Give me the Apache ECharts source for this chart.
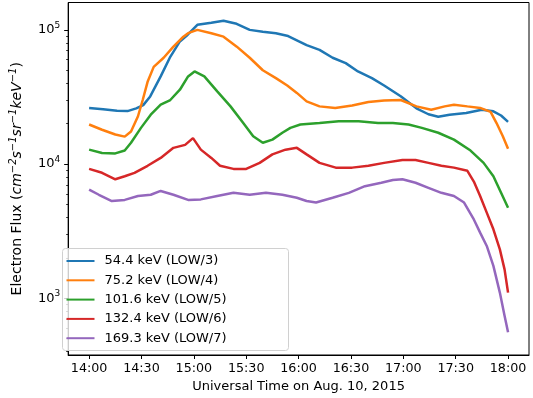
<!DOCTYPE html>
<html>
<head>
<meta charset="utf-8">
<script src="https://cdn.jsdelivr.net/npm/echarts@6/dist/echarts.min.js"></script>
<style>
  html, body { margin: 0; padding: 0; background: #fff; }
  #chart { width: 533px; height: 398px; }
</style>
</head>
<body>
<div id="chart"></div>
<script>
// x values are minutes after 14:00 UT, y values are flux
const seriesNames = [
  '54.4 keV (LOW/3)',
  '75.2 keV (LOW/4)',
  '101.6 keV (LOW/5)',
  '132.4 keV (LOW/6)',
  '169.3 keV (LOW/7)'
]
const colors = ['#1f77b4', '#ff7f0e', '#2ca02c', '#d62728', '#9467bd']

const flux54 = [
  [0, 26200], [8, 25600], [16, 25000], [22, 24800], [27, 26000], [31, 27500], [35, 31900],
  [41, 45000], [46.5, 63000], [52, 82000], [56.5, 92000], [62, 109000], [70, 113000],
  [77, 117000], [84.5, 111000], [92, 100000], [99.5, 97000], [107, 94500], [114, 90000],
  [124.6, 77000], [132, 71000], [139.5, 62000], [147, 56500], [154, 49000], [162, 43700],
  [169, 38500], [178.5, 32000], [187.5, 26000], [194.4, 23500], [200, 22500], [206.5, 23300],
  [216, 24000], [225, 25400], [231.6, 24700], [236, 23000], [240, 20600]
]
const flux75 = [
  [0, 19700], [7.4, 18000], [15, 16600], [20.4, 16000], [24, 17500], [28, 22700], [30.7, 30000],
  [33.5, 41000], [37, 53000], [42.7, 62000], [48.3, 75000], [54, 89000], [56.7, 94500],
  [62, 100000], [70, 94500], [77, 89000], [84.6, 75000], [92, 62000], [99.5, 50000],
  [107, 43700], [113.5, 38500], [119, 33900], [124.6, 29300], [132, 26900], [141, 26200],
  [150.7, 27300], [160, 29000], [169, 29800], [178.5, 30000], [187.5, 26900], [196, 25400],
  [203.7, 26900], [209, 27700], [216.7, 26900], [224, 26200], [230, 24500], [233.4, 20200],
  [237, 16100], [240, 13000]
]
const flux101 = [
  [0, 12800], [7.4, 12100], [15, 12000], [20.4, 12600], [24, 14400], [29.7, 18600], [35.3, 23300],
  [41, 27700], [46.5, 30000], [52, 35800], [56.7, 45000], [60.4, 49000], [66, 45000],
  [73.4, 34800], [81, 26900], [88.3, 20200], [94, 16100], [99.5, 14400], [105, 15200],
  [110.7, 17100], [115.3, 18600], [121, 19700], [132, 20200], [143, 20800], [154.4, 20800],
  [165.5, 20200], [174, 20200], [183, 19700], [190.6, 18600], [200, 17100], [209, 15200],
  [218.5, 12600], [226, 10200], [231.6, 8100], [236, 6100], [240, 4720]
]
const flux132 = [
  [0, 9200], [7.4, 8600], [15, 7700], [20.4, 8100], [26, 8600], [33.5, 9700], [41, 11100],
  [48.3, 13200], [55, 13900], [59.5, 15600], [64, 12800], [70, 11100], [75, 9700],
  [82.7, 9200], [90, 9200], [97.7, 10200], [105, 11800], [112.5, 12800], [119, 13200],
  [124.6, 11800], [132, 10200], [141.3, 9400], [150.7, 9400], [160, 9700], [169, 10200],
  [179.5, 10700], [187, 10700], [194.4, 10200], [201.8, 9700], [209, 9400], [216.7, 8900],
  [220.4, 7400], [224, 5770], [227.8, 4340], [231.6, 3260], [235.3, 2310], [238, 1640], [240, 1100]
]
const flux169 = [
  [0, 6450], [5.6, 5900], [13, 5300], [20.4, 5400], [28, 5770], [35.3, 5900], [41, 6300],
  [48.3, 5900], [56.7, 5400], [64, 5450], [73.4, 5770], [82.7, 6100], [92, 5900],
  [101.3, 6100], [110.7, 5900], [119, 5600], [124.6, 5300], [130, 5160], [139.5, 5600],
  [148.8, 6100], [158, 6840], [167.4, 7250], [174, 7600], [179.5, 7700], [187, 7250],
  [194.4, 6650], [201.8, 6100], [209, 5770], [214.8, 5160], [220.4, 3860], [224, 3080],
  [227.8, 2450], [231.6, 1740], [235.3, 1100], [238, 740], [240, 556]
]

const xTicks = [0, 30, 60, 90, 120, 150, 180, 210, 240]
const xTickLabels = ['14:00', '14:30', '15:00', '15:30', '16:00', '16:30', '17:00', '17:30', '18:00']
const yMajor = [1000, 10000, 100000]
const yMinor = [400, 500, 600, 700, 800, 900, 2000, 3000, 4000, 5000, 6000, 7000, 8000, 9000,
  20000, 30000, 40000, 50000, 60000, 70000, 80000, 90000]

const FONT = 'DejaVu Sans'
const allData = [flux54, flux75, flux101, flux132, flux169]

const chart = echarts.init(document.getElementById('chart'), null, { renderer: 'canvas' })

const option = {
  animation: false,
  color: colors,
  grid: {
    left: 55,
    right: 4,
    top: 2.5,
    bottom: 42,
    show: true,
    borderColor: '#000',
    borderWidth: 1
  },
  // legend frame (matplotlib style box)
  graphic: [{
    type: 'rect',
    left: 62,
    top: 248,
    shape: { width: 226, height: 102, r: 3 },
    style: { fill: 'rgba(255,255,255,0.8)', stroke: '#d0d0d0', lineWidth: 1 },
    z: 5
  }],
  legend: {
    orient: 'vertical',
    left: 62,
    top: 248,
    icon: 'rect',
    itemWidth: 28,
    itemHeight: 2,
    itemGap: 5.3,
    padding: [6, 4, 4, 4.5],
    z: 10,
    textStyle: { fontFamily: FONT, fontSize: 13, color: '#000', lineHeight: 14, padding: [0, 0, 0, 5] },
    data: seriesNames
  },
  xAxis: {
    type: 'value',
    min: -12,
    max: 252,
    name: 'Universal Time on Aug. 10, 2015',
    nameLocation: 'middle',
    nameGap: 25,
    nameTextStyle: { fontFamily: FONT, fontSize: 13, color: '#000' },
    axisLine: { show: true, onZero: false, lineStyle: { color: '#000', width: 1 } },
    axisTick: { show: true, length: 4, customValues: xTicks, lineStyle: { color: '#000' } },
    axisLabel: {
      customValues: xTicks,
      margin: 7,
      fontFamily: FONT,
      fontSize: 12.7,
      color: '#000',
      formatter: (v) => xTickLabels[xTicks.indexOf(v)]
    },
    splitLine: { show: false }
  },
  yAxis: [
    {
      type: 'log',
      logBase: 10,
      min: 377,
      max: 160000,
      name: 'Electron Flux ({i|cm}{s|−2}{i|s}{s|−1}{i|sr}{s|−1}{i|keV}{s|−1})',
      nameLocation: 'middle',
      nameGap: 36,
      nameTextStyle: {
        fontFamily: FONT,
        fontSize: 14,
        color: '#000',
        lineHeight: 19,
        rich: {
          i: { fontFamily: FONT, fontSize: 14, fontStyle: 'italic', color: '#000', lineHeight: 19 },
          s: { fontFamily: FONT, fontSize: 10, fontStyle: 'italic', color: '#000', verticalAlign: 'top', lineHeight: 19 }
        }
      },
      axisLine: { show: true, onZero: false, lineStyle: { color: '#000', width: 1 } },
      axisTick: { show: true, length: 4, customValues: yMajor, lineStyle: { color: '#000' } },
      axisLabel: {
        customValues: yMajor,
        margin: 8,
        color: '#000',
        formatter: (v) => '{b|10}{s|' + Math.round(Math.log10(v)) + '}',
        rich: {
          b: { fontFamily: FONT, fontSize: 13, color: '#000', lineHeight: 18 },
          s: { fontFamily: FONT, fontSize: 9, color: '#000', verticalAlign: 'top', lineHeight: 18 }
        }
      },
      splitLine: { show: false }
    },
    {
      // minor ticks only
      type: 'log',
      logBase: 10,
      min: 377,
      max: 160000,
      position: 'left',
      axisLine: { show: false, onZero: false },
      axisTick: { show: true, length: 2, customValues: yMinor, lineStyle: { color: '#000', width: 0.8 } },
      axisLabel: { show: false },
      splitLine: { show: false }
    }
  ],
  series: allData.map((d, i) => ({
    name: seriesNames[i],
    type: 'line',
    data: d,
    symbol: 'none',
    smooth: false,
    lineStyle: { width: 2.5, color: colors[i] },
    itemStyle: { color: colors[i] }
  }))
}

chart.setOption(option)
</script>
</body>
</html>
